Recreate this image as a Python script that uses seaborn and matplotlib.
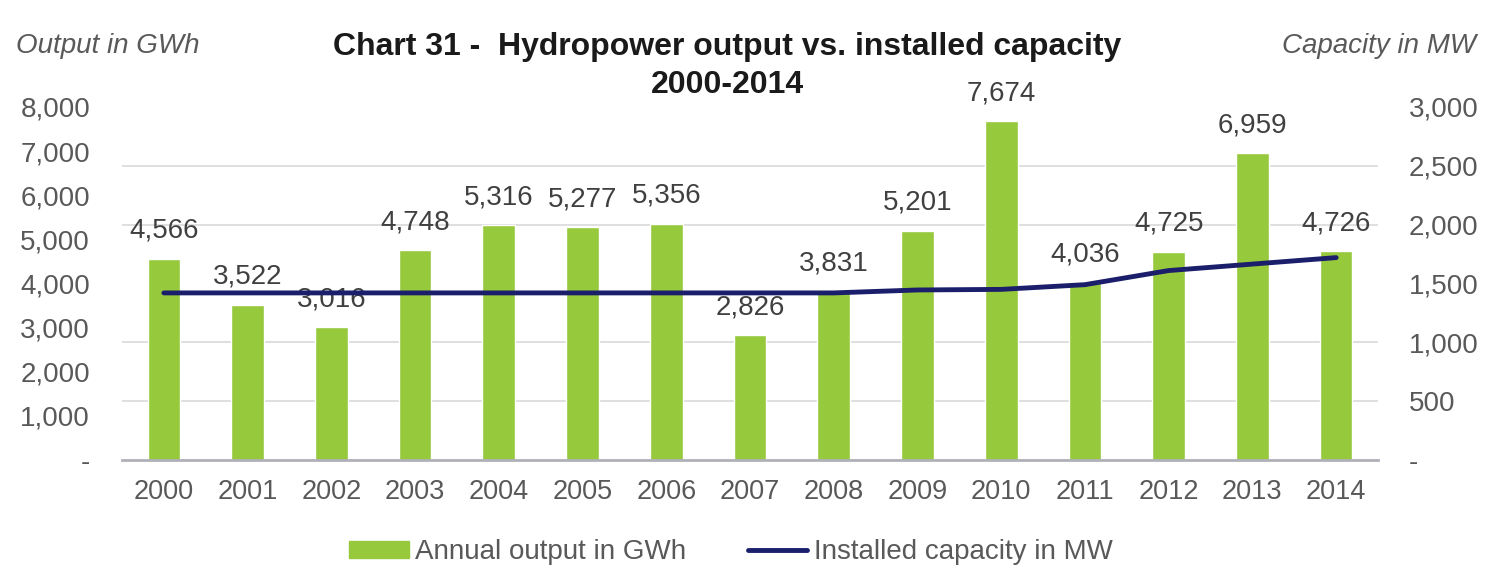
import numpy as np
import pandas as pd
import matplotlib
matplotlib.use("Agg")
import matplotlib.pyplot as plt
import seaborn as sns
from matplotlib.patches import Patch
from matplotlib.lines import Line2D

years = ["2000", "2001", "2002", "2003", "2004", "2005", "2006", "2007",
         "2008", "2009", "2010", "2011", "2012", "2013", "2014"]
output_gwh = [4566, 3522, 3016, 4748, 5316, 5277, 5356, 2826,
              3831, 5201, 7674, 4036, 4725, 6959, 4726]
capacity_mw = [1420, 1420, 1420, 1420, 1420, 1420, 1420, 1420,
               1420, 1445, 1450, 1490, 1610, 1665, 1720]

left_ticks = [0, 1000, 2000, 3000, 4000, 5000, 6000, 7000, 8000]
right_ticks = [0, 500, 1000, 1500, 2000, 2500, 3000]

BAR = "#97C93D"
LINE = "#1B1F6B"
TXT = "#595959"

sns.set_theme(style="white")
plt.rcParams["font.family"] = ["Liberation Sans", "DejaVu Sans"]

fig = plt.figure(figsize=(14.93, 5.76), dpi=100)
ax = fig.add_axes([122/1493, 1-460/576, (1378-122)/1493, (460-107)/576])

df = pd.DataFrame({"year": years, "output": output_gwh, "capacity": capacity_mw})
sns.barplot(data=df, x="year", y="output", color=BAR, saturation=1,
            width=0.39, ax=ax, zorder=2)

ax.set_ylim(0, 8000)
ax.set_yticks(left_ticks)
ax.set_yticklabels(["-" if v == 0 else f"{v:,}" for v in left_ticks])
# gridlines aligned with right-axis ticks
ax.set_yticks([v * 8000 / 3000 for v in right_ticks], minor=True)
ax.yaxis.grid(True, which="minor", color="#d9d9d9", linewidth=1.2, zorder=0)
ax.yaxis.grid(False, which="major")
ax.set_axisbelow(True)
ax.set_xlabel("")
ax.set_ylabel("")
for s in ["top", "right", "left"]:
    ax.spines[s].set_visible(False)
ax.spines["bottom"].set_color("#b0b0b8")
ax.spines["bottom"].set_linewidth(2)
ax.tick_params(axis="y", which="both", length=0, pad=23, labelsize=20, labelcolor=TXT)
ax.tick_params(axis="x", length=0, pad=14, labelsize=19.5, labelcolor=TXT)
ax.set_xlim(-0.5, len(years) - 0.5)

for i, v in enumerate(output_gwh):
    ax.annotate(f"{v:,}", (i, v), xytext=(0, 20), textcoords="offset points",
                ha="center", va="center", fontsize=20, color="#404040")

ax2 = ax.twinx()
sns.lineplot(x=np.arange(len(years)), y=capacity_mw, ax=ax2, color=LINE,
             linewidth=3.5, zorder=3)
ax2.set_ylim(0, 3000)
ax2.set_yticks(right_ticks)
ax2.set_yticklabels(["-" if v == 0 else f"{v:,}" for v in right_ticks])
ax2.tick_params(axis="y", length=0, pad=22, labelsize=20, labelcolor=TXT)
for s in ["top", "right", "left", "bottom"]:
    ax2.spines[s].set_visible(False)
ax2.grid(False)
ax2.set_ylabel("")

fig.text(727/1493, 1-47/576, "Chart 31 -  Hydropower output vs. installed capacity",
         ha="center", va="center", fontsize=23, fontweight="bold", color="#1a1a1a")
fig.text(727/1493, 1-85/576, "2000-2014",
         ha="center", va="center", fontsize=23, fontweight="bold", color="#1a1a1a")
fig.text(16/1493, 1-46/576, "Output in GWh", ha="left", va="center",
         fontsize=20, fontstyle="italic", color=TXT)
fig.text(1476/1493, 1-46/576, "Capacity in MW", ha="right", va="center",
         fontsize=20, fontstyle="italic", color=TXT)

handles = [Patch(facecolor=BAR, edgecolor=BAR),
           Line2D([0], [0], color=LINE, linewidth=3.5)]
fig.legend(handles, ["Annual output in GWh", "Installed capacity in MW"],
           loc="center", bbox_to_anchor=(731/1493, 1-552/576), ncol=2,
           frameon=False, fontsize=20, handlelength=2.15, handleheight=0.55,
           handletextpad=0.25, columnspacing=2.2, labelcolor=TXT)

fig.savefig("out.png", dpi=100, facecolor="white")
